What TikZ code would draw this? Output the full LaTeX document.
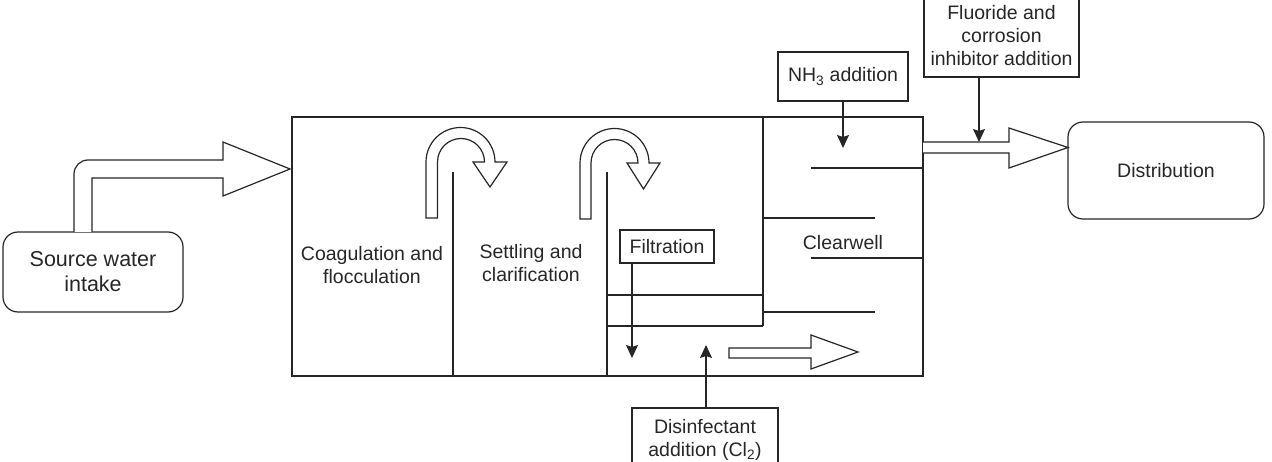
\documentclass[tikz,border=0pt]{standalone}
\usepackage{fontspec}
\setmainfont{Liberation Sans}
\usetikzlibrary{arrows.meta}
\begin{document}
\begin{tikzpicture}[x=1pt,y=-1pt,
  ln/.style={draw=black!85,line width=1.2pt},
  lbl/.style={align=center,inner sep=0pt,text=black!85,font=\fontsize{19.5}{23}\selectfont},
  box/.style={lbl,draw=black!85,line width=1.2pt},
  rbox/.style={box,rounded corners=15pt},
  arr/.style={ln,-{Stealth[length=13pt,width=12pt,inset=2pt]}},
  blk/.style={ln,line join=miter,fill=white}]
\useasboundingbox (0,0) rectangle (1272,462);
\clip (0,0) rectangle (1272,462);
% main plant box
\draw[ln] (292,117) rectangle (923,376);
\draw[ln] (453,172) -- (453,376);
\draw[ln] (607,172) -- (607,376);
\draw[ln] (607,295) -- (763,295);
\draw[ln] (607,326) -- (763,326);
\draw[ln] (763,117) -- (763,326);
\draw[ln] (763,312) -- (875,312);
\draw[ln] (811,168) -- (923,168);
\draw[ln] (763,218) -- (875,218);
\draw[ln] (811,258) -- (923,258);
% nodes
\node[rbox,minimum width=180pt,minimum height=80pt,font=\fontsize{21.5}{25}\selectfont] (src) at (93,272) {Source water\\intake};
\node[rbox,minimum width=196pt,minimum height=97pt] (dist) at (1166,170.5) {Distribution};
\node[box,minimum width=94pt,minimum height=33pt] (filt) at (667,246.5) {Filtration};
\node[box,minimum width=130pt,minimum height=49pt] (nh3) at (843,76.5) {NH\textsubscript{3} addition};
\node[box,minimum width=155pt,minimum height=82pt] (fl) at (1001.5,36) {Fluoride and\\corrosion\\inhibitor addition};
\node[box,minimum width=146pt,minimum height=64pt] (dis) at (705,440) {Disinfectant\\addition (Cl\textsubscript{2})};
\node[lbl] (coag) at (372,265) {Coagulation and\\flocculation};
\node[lbl] (settle) at (531,263) {Settling and\\clarification};
\node[lbl] (clear) at (843,243) {Clearwell};
% thin arrows
\coordinate (nt) at (843,148);
\coordinate (ft) at (979,142);
\coordinate (filtt) at (632,358);
\coordinate (dt) at (706,345);
\draw[arr] (nh3.south -| nt) -- (nt);
\draw[arr] (fl.south -| ft) -- (ft);
\draw[arr] (filt.south -| filtt) -- (filtt);
\draw[arr] (dis.north -| dt) -- (dt);
% block arrows
\draw[blk] (74,232) [rounded corners=14pt] -- (74,160) [sharp corners] -- (223,160) -- (223,142) -- (290,169) -- (223,196) -- (223,178) -- (92,178) -- (92,232);
\draw[blk] (923,142) -- (1009,142) -- (1009,128) -- (1068,147.5) -- (1009,168) -- (1009,153) -- (923,153);
\draw[blk] (729,348) -- (811,348) -- (811,335) -- (858,352) -- (811,369) -- (811,358) -- (729,358) -- cycle;
% U-shaped arrows
\draw[blk] (426,218) -- (426,162) arc[start angle=180,end angle=360,radius=34.5] -- (507,162) -- (490,187) -- (473,162) -- (484.5,162) arc[start angle=360,end angle=180,radius=23.5] -- (437.5,218) -- cycle;
\draw[blk] (580,219) -- (580,163) arc[start angle=180,end angle=360,radius=34.5] -- (660,163) -- (643.5,189) -- (627,163) -- (638,163) arc[start angle=360,end angle=180,radius=23.5] -- (591,219) -- cycle;
\end{tikzpicture}
\end{document}
